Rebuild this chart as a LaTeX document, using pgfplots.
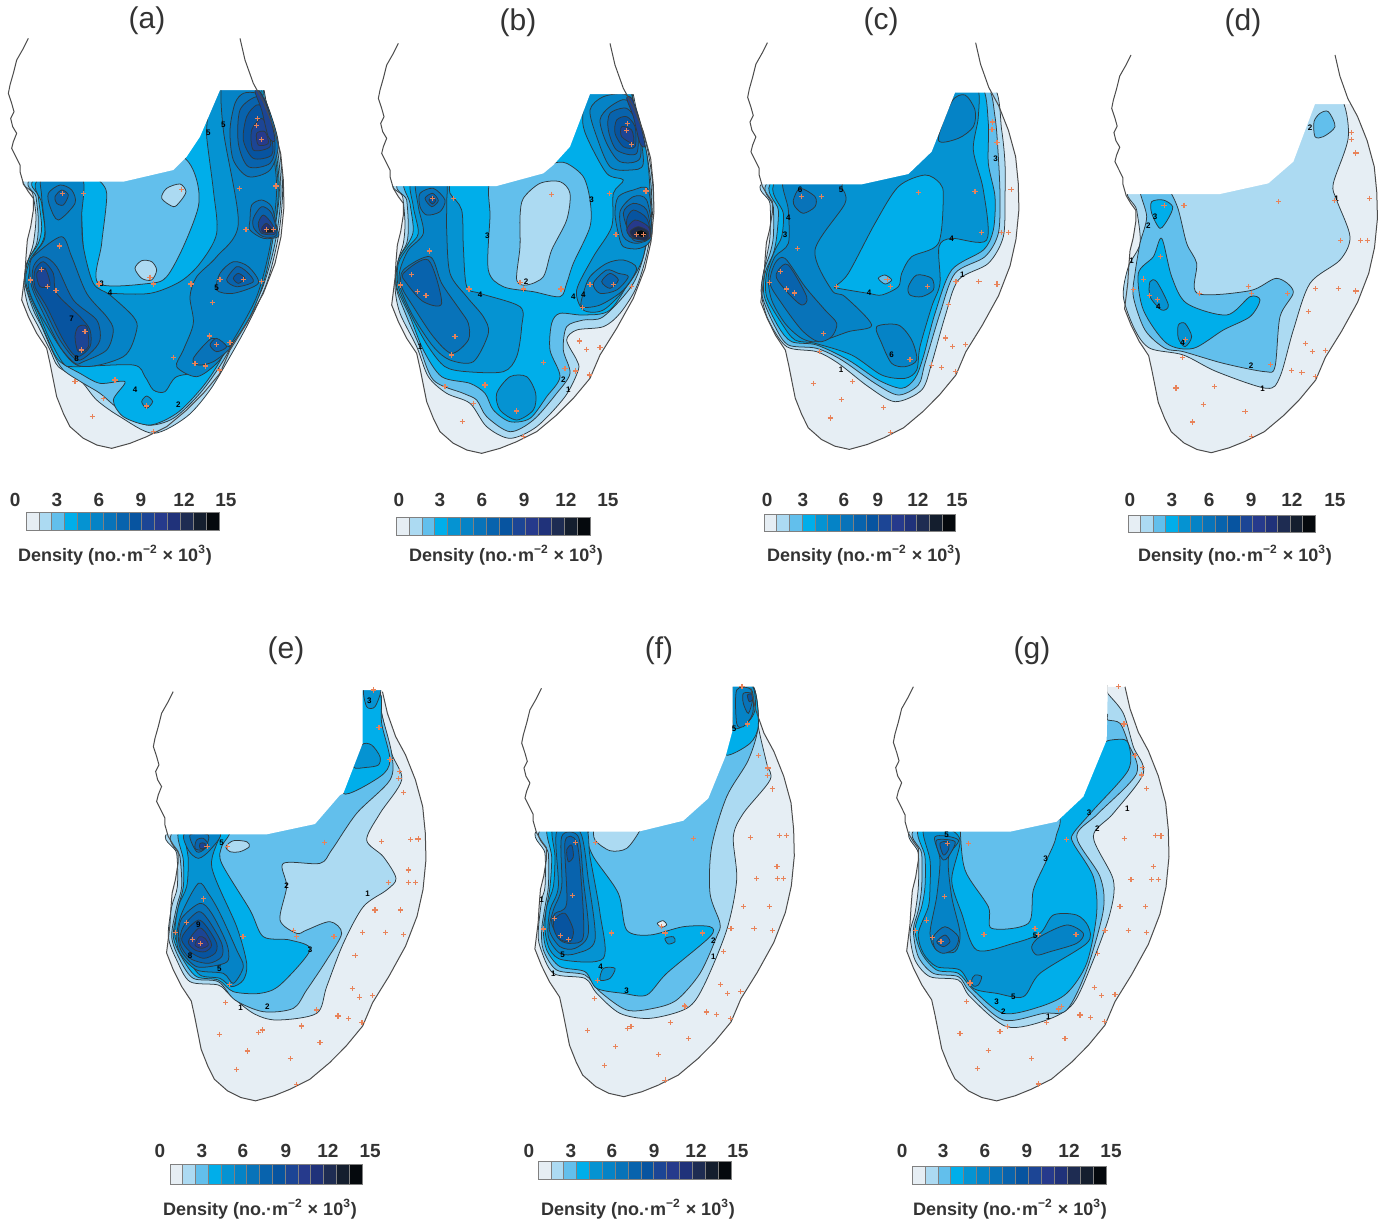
\documentclass[border=0pt]{standalone}
\usepackage{fontspec}
\setmainfont{Liberation Sans}
\usepackage{pgfplots}
\usepackage{pgfplotstable}
\pgfplotsset{compat=1.18}

% density classes, one per unit of the colour bar
\definecolor{c0}{HTML}{E6EEF4}
\definecolor{c1}{HTML}{ACDAF2}
\definecolor{c2}{HTML}{62BFEC}
\definecolor{c3}{HTML}{00AEEA}
\definecolor{c4}{HTML}{0593D2}
\definecolor{c5}{HTML}{0583C6}
\definecolor{c6}{HTML}{0873B9}
\definecolor{c7}{HTML}{0863AD}
\definecolor{c8}{HTML}{0754A0}
\definecolor{c9}{HTML}{1C4595}
\definecolor{c10}{HTML}{263A8C}
\definecolor{c11}{HTML}{20327A}
\definecolor{c12}{HTML}{1E2C52}
\definecolor{c13}{HTML}{141E2E}
\definecolor{c14}{HTML}{05090D}
\definecolor{cont}{HTML}{2F3A40}
\definecolor{site}{HTML}{E8835A}
\definecolor{txt}{HTML}{333333}

% coast, in the units of panel (a)
\pgfplotstableread{
x y
85 25
70 55
50 90
40 130
30 165
25 190
35 220
42 245
32 265
38 290
50 310
40 335
35 355
50 385
60 405
60 425
70 460
85 485
100 505
100 540
92 590
82 630
78 680
75 730
70 770
65 810
85 860
110 910
140 955
150 1000
160 1050
170 1100
190 1150
210 1190
250 1225
290 1245
335 1255
390 1240
440 1220
500 1190
560 1140
610 1090
660 1030
690 960
740 880
790 790
825 700
843 620
852 530
850 450
842 370
820 290
790 215
760 160
735 90
720 25
}\coasttable

% sampling sites
\pgfplotstableread{
x y
188 490
250 490
545 478
178 648
125 718
92 750
143 770
168 782
297 762
450 742
460 762
573 762
637 818
660 748
730 748
785 755
718 475
828 468
738 598
800 598
820 598
772 265
770 287
785 328
255 905
245 960
225 1055
345 1050
310 1105
440 1128
277 1160
460 1205
520 982
585 1000
617 1008
658 1020
628 918
650 943
690 938
}\sitetable

% further sites of panels (e) to (g)
\pgfplotstableread{
x y
812 478
805 570
705 690
782 690
530 990
485 1038
540 1087
367 1050
717 143
750 238
700 30
}\moresites

\pgfplotsset{
  panel/.style 2 args={
    at={(#1*0.5pt+75pt,-#2*0.5pt-107.5pt)}, anchor=center,
    scale only axis, width=150pt, height=215pt,
    xmin=0, xmax=900, ymin=0, ymax=1290, y dir=reverse,
    hide axis, clip=false},
}
\newcommand{\lv}[2]{\addplot[fill=c#1,draw=cont,line width=.38pt,smooth cycle] coordinates {#2};}
\newcommand{\mask}[1]{\addplot[fill=white,draw=none] coordinates {#1} --cycle;}
\newcommand{\base}[4]{\addplot[fill=c0,draw=none] table[x expr=\thisrow{x}*#1+#2,y expr=\thisrow{y}*#3+#4] {\coasttable} --cycle;}
\newcommand{\coast}[4]{\addplot[draw=black!70,line width=.5pt] table[x expr=\thisrow{x}*#1+#2,y expr=\thisrow{y}*#3+#4] {\coasttable};}
\newcommand{\sites}[4]{\addplot[only marks,mark=+,mark size=1.3pt,mark options={draw=site,line width=.55pt}] table[x expr=\thisrow{x}*#1+#2,y expr=\thisrow{y}*#3+#4] {\sitetable};}
\newcommand{\extra}[2]{\addplot[only marks,mark=+,mark size=1.3pt,mark options={draw=site,line width=.55pt}] table[x expr=\thisrow{x}+#1,y expr=\thisrow{y}+#2] {\moresites};}
\newcommand{\cl}[3]{\node[font=\fontsize{4}{4}\selectfont\bfseries,inner sep=0pt] at (axis cs:#1,#2) {#3};}

% colour bar: left, right, top, bottom in pixels, label gap, tick places
\newcommand{\cbar}[6]{%
\begin{axis}[
  at={({#1*0.5pt-(#2-#1)*0.5pt*2/15},{-#4*0.5pt})}, anchor=south west,
  scale only axis, width={(#2-#1)*0.5pt*20/15}, height={(#4-#3)*0.5pt},
  xmin=-2, xmax=18, ymin=0, ymax=1, clip=false,
  axis y line=none, axis x line*=top, x axis line style={draw=none},
  xtick={#6}, xticklabels={0,3,6,9,12,15}, major tick length=0pt,
  xticklabel style={inner sep=0pt,yshift=#5*0.5pt,text=txt,font=\fontsize{9.5}{10}\selectfont\bfseries},
  /pgf/number format/assume math mode=true,
]
\addplot[fill=c0,draw=gray,line width=.35pt] coordinates {(0,0)(1,0)(1,1)(0,1)} --cycle;
\addplot[fill=c1,draw=gray,line width=.35pt] coordinates {(1,0)(2,0)(2,1)(1,1)} --cycle;
\addplot[fill=c2,draw=gray,line width=.35pt] coordinates {(2,0)(3,0)(3,1)(2,1)} --cycle;
\addplot[fill=c3,draw=gray,line width=.35pt] coordinates {(3,0)(4,0)(4,1)(3,1)} --cycle;
\addplot[fill=c4,draw=gray,line width=.35pt] coordinates {(4,0)(5,0)(5,1)(4,1)} --cycle;
\addplot[fill=c5,draw=gray,line width=.35pt] coordinates {(5,0)(6,0)(6,1)(5,1)} --cycle;
\addplot[fill=c6,draw=gray,line width=.35pt] coordinates {(6,0)(7,0)(7,1)(6,1)} --cycle;
\addplot[fill=c7,draw=gray,line width=.35pt] coordinates {(7,0)(8,0)(8,1)(7,1)} --cycle;
\addplot[fill=c8,draw=gray,line width=.35pt] coordinates {(8,0)(9,0)(9,1)(8,1)} --cycle;
\addplot[fill=c9,draw=gray,line width=.35pt] coordinates {(9,0)(10,0)(10,1)(9,1)} --cycle;
\addplot[fill=c10,draw=gray,line width=.35pt] coordinates {(10,0)(11,0)(11,1)(10,1)} --cycle;
\addplot[fill=c11,draw=gray,line width=.35pt] coordinates {(11,0)(12,0)(12,1)(11,1)} --cycle;
\addplot[fill=c12,draw=gray,line width=.35pt] coordinates {(12,0)(13,0)(13,1)(12,1)} --cycle;
\addplot[fill=c13,draw=gray,line width=.35pt] coordinates {(13,0)(14,0)(14,1)(13,1)} --cycle;
\addplot[fill=c14,draw=gray,line width=.35pt] coordinates {(14,0)(15,0)(15,1)(14,1)} --cycle;
\end{axis}}
\newcommand{\dens}[2]{\node[text=txt,font=\fontsize{9}{10}\selectfont\bfseries,inner sep=0pt] at (#1*0.5pt,-#2*0.5pt) {Density (no.·m\textsuperscript{−2} × 10\textsuperscript{3})};}
\newcommand{\ttl}[3]{\node[text=txt,font=\fontsize{15}{16}\selectfont,inner sep=0pt] at (#1*0.5pt,-#2*0.5pt) {(#3)};}

\begin{document}
\begin{tikzpicture}
\path[use as bounding box] (0,0) rectangle (690.5pt,-611pt);

% ---------- (a)
\begin{axis}[panel={0}{30}]
\base{1}{0}{1}{0}
\lv{1}{(85,440)(98,490)(108,560)(100,640)(85,690)(72,760)(85,830)(115,890)(150,960)(175,1010)(240,1050)(290,1110)(360,1160)(460,1210)(560,1160)(630,1080)(690,980)(745,880)(800,760)(835,620)(848,480)(835,340)(800,220)(770,150)(660,150)(400,300)}
\lv{2}{(100,440)(108,500)(115,570)(110,640)(80,700)(75,760)(100,840)(125,890)(160,970)(190,1020)(250,1060)(300,1090)(360,1140)(440,1185)(520,1165)(600,1090)(665,1000)(720,900)(785,780)(825,640)(843,490)(830,340)(800,220)(775,150)(660,150)(400,300)}
\lv{3}{(112,440)(115,500)(125,590)(115,640)(85,690)(75,760)(110,850)(140,920)(175,990)(240,1030)(300,1060)(375,1055)(340,1110)(370,1160)(450,1185)(530,1150)(600,1080)(650,1010)(710,900)(775,780)(815,640)(838,490)(825,340)(795,220)(775,150)(640,150)(400,300)}
\lv{4}{(122,440)(125,520)(135,600)(125,640)(90,690)(78,760)(120,860)(150,930)(190,1000)(225,1010)(400,1005)(435,1040)(460,1080)(495,1085)(530,1040)(620,1020)(690,950)(750,860)(790,760)(815,650)(835,490)(820,340)(790,220)(770,150)(640,150)(400,300)}
\lv{3}{(245,440)(245,560)(255,700)(285,785)(330,790)(450,790)(540,755)(600,700)(650,610)(640,480)(620,320)(620,240)(560,300)(400,350)}
\lv{2}{(290,440)(320,490)(305,640)(295,760)(450,760)(500,740)(550,650)(595,530)(590,450)(555,385)(450,330)(300,400)}
\lv{1}{(485,505)(500,475)(540,462)(558,485)(540,515)(520,530)}
\lv{1}{(405,715)(425,692)(455,695)(470,720)(455,750)(425,745)}
\lv{4}{(425,1115)(440,1098)(458,1115)(440,1135)}
\lv{5}{(130,440)(245,440)(245,560)(250,650)(280,760)(330,795)(400,860)(410,900)(370,980)(230,1005)(130,870)(85,770)(100,680)(135,620)(125,500)}
\lv{5}{(670,150)(670,300)(715,580)(650,680)(590,740)(570,800)(580,880)(550,960)(530,1010)(590,1040)(650,1000)(700,930)(770,800)(810,650)(830,480)(815,340)(785,220)(760,150)}
\lv{6}{(90,700)(110,670)(185,620)(215,680)(260,790)(320,860)(340,900)(320,960)(250,995)(225,1000)(180,950)(130,850)(95,770)}
\lv{7}{(100,710)(130,680)(170,710)(220,810)(290,870)(300,930)(270,970)(230,990)(180,930)(135,840)(100,770)}
\lv{8}{(105,720)(130,695)(160,730)(170,790)(240,860)(270,900)(270,950)(230,980)(190,930)(140,830)(105,770)}
\lv{9}{(110,730)(135,715)(150,765)(120,770)}
\lv{9}{(235,890)(260,890)(265,950)(235,965)(225,920)}
\lv{6}{(145,490)(180,465)(215,480)(225,520)(175,570)(150,530)}
\lv{7}{(165,500)(185,480)(205,495)(190,525)(170,520)}
\lv{6}{(705,220)(690,300)(700,390)(745,440)(810,420)(835,340)(800,220)(770,190)(730,190)}
\lv{7}{(720,240)(715,340)(745,410)(810,400)(825,340)(800,230)(770,200)}
\lv{8}{(740,260)(730,330)(760,385)(815,375)(815,320)(795,240)(770,225)}
\lv{9}{(755,300)(760,360)(810,350)(805,300)(785,265)}
\lv{10}{(770,310)(775,345)(805,340)(795,305)}
\lv{9}{(765,185)(785,240)(805,320)(825,330)(805,240)(780,185)}
\lv{6}{(750,570)(755,525)(785,510)(815,530)(830,590)(835,620)(790,625)(750,600)}
\lv{7}{(760,565)(785,530)(815,550)(830,615)(790,620)(762,595)}
\lv{9}{(775,580)(790,555)(815,580)(825,612)(785,610)}
\lv{11}{(785,595)(800,580)(820,605)(790,608)}
\lv{13}{(795,598)(812,595)(820,606)(800,608)}
\lv{6}{(650,780)(660,730)(700,695)(745,710)(775,760)(700,790)}
\lv{7}{(680,750)(710,710)(740,725)(760,755)(710,770)}
\lv{8}{(700,745)(715,730)(735,745)(715,760)}
\lv{6}{(580,985)(635,925)(670,945)(690,955)(640,995)(595,1005)}
\lv{7}{(630,945)(650,925)(680,950)(650,965)}
\mask{(0,455)(370,455)(520,420)(560,380)(600,320)(660,180)(810,180)(810,-20)(0,-20)}
\coast{1}{0}{1}{0}
\sites{1}{0}{1}{0}
\cl{305}{762}{3}\cl{330}{788}{4}\cl{625}{307}{5}\cl{670}{285}{5}\cl{405}{1080}{4}\cl{535}{1125}{2}\cl{650}{772}{5}\cl{215}{865}{7}\cl{230}{985}{8}
\end{axis}

% ---------- (b)
\begin{axis}[panel={370}{30}]
\base{1}{0}{1}{15}
\lv{1}{(85,450)(98,500)(105,580)(100,640)(85,690)(75,770)(90,850)(140,950)(175,1040)(230,1090)(300,1120)(350,1190)(420,1225)(500,1190)(585,1100)(625,1020)(620,990)(590,930)(620,900)(700,890)(750,850)(800,770)(835,650)(850,500)(835,370)(800,240)(770,160)(640,160)(400,300)}
\lv{2}{(95,450)(110,510)(115,590)(110,640)(85,690)(78,770)(110,860)(145,940)(190,1050)(280,1090)(320,1110)(350,1160)(420,1205)(490,1170)(560,1090)(600,1030)(580,960)(590,890)(640,870)(700,860)(790,760)(830,640)(845,500)(830,370)(795,240)(770,160)(640,160)(400,300)}
\lv{3}{(110,450)(120,520)(130,600)(115,640)(85,690)(80,770)(120,860)(160,960)(215,1040)(300,1060)(345,1090)(370,1140)(420,1175)(480,1165)(530,1100)(570,1040)(540,960)(545,880)(570,850)(640,855)(720,840)(790,730)(825,630)(840,500)(825,370)(790,240)(770,160)(600,160)(300,430)}
\lv{2}{(365,450)(360,560)(355,720)(400,770)(490,785)(570,800)(590,760)(610,700)(660,590)(660,510)(640,440)(590,400)(550,400)(500,430)}
\lv{1}{(460,505)(510,460)(570,455)(600,490)(590,570)(545,660)(520,740)(470,765)(440,750)(450,650)(450,560)}
\lv{4}{(125,450)(130,530)(145,610)(115,650)(85,700)(85,770)(125,860)(175,950)(225,1010)(290,1025)(400,1025)(440,980)(455,890)(450,830)(330,790)(290,770)(280,650)(275,540)(240,490)(230,450)}
\lv{4}{(660,170)(638,260)(650,320)(710,430)(760,450)(730,490)(725,590)(670,680)(620,780)(640,840)(700,840)(770,770)(820,680)(840,520)(830,370)(795,240)(770,170)}
\lv{4}{(380,1090)(420,1040)(470,1040)(497,1090)(490,1140)(440,1170)(390,1140)}
\lv{5}{(140,450)(145,530)(160,610)(115,660)(90,720)(90,770)(130,860)(190,950)(240,990)(310,995)(355,910)(340,860)(290,800)(240,730)(230,600)(230,520)(225,450)}
\lv{6}{(100,720)(180,680)(215,760)(270,840)(295,880)(295,930)(245,970)(190,920)(130,830)(95,770)}
\lv{7}{(100,730)(175,690)(215,820)(160,815)(110,760)}
\lv{6}{(150,490)(190,475)(225,510)(210,545)(170,555)(150,530)}
\lv{7}{(165,505)(188,490)(205,512)(185,530)}
\lv{8}{(177,510)(188,500)(197,512)(187,522)}
\lv{5}{(700,200)(660,240)(680,320)(720,410)(780,420)(820,400)(800,260)(770,195)}
\lv{6}{(720,230)(690,270)(710,340)(750,395)(810,385)(805,280)(770,210)}
\lv{7}{(720,250)(715,300)(740,360)(800,370)(800,280)(770,235)}
\lv{8}{(740,270)(735,310)(760,350)(795,350)(795,290)(770,260)}
\lv{9}{(755,290)(755,320)(790,340)(785,300)}
\lv{9}{(770,205)(790,260)(810,340)(825,345)(805,260)(785,205)}
\lv{5}{(735,550)(745,500)(790,480)(835,480)(845,620)(810,655)(760,650)(745,610)}
\lv{6}{(750,545)(790,500)(830,510)(845,615)(800,640)(760,620)}
\lv{7}{(760,550)(790,520)(830,540)(840,620)(790,630)}
\lv{8}{(770,570)(790,540)(830,565)(838,620)(780,620)}
\lv{10}{(770,600)(795,570)(835,590)(838,625)(790,625)}
\lv{12}{(780,605)(805,590)(835,605)(830,630)(795,625)}
\lv{14}{(795,608)(815,600)(832,612)(815,622)}
\lv{5}{(640,790)(660,740)(710,700)(760,690)(800,715)(760,780)(690,825)(635,830)}
\lv{6}{(670,760)(710,720)(745,730)(775,740)(740,780)(690,790)}
\lv{7}{(695,755)(720,730)(745,750)(720,775)}
\mask{(0,468)(380,468)(520,430)(550,405)(600,350)(660,192)(810,192)(810,-20)(0,-20)}
\coast{1}{0}{1}{15}
\sites{1}{0}{1}{15}
\cl{352}{618}{3}\cl{330}{795}{4}\cl{665}{510}{3}\cl{468}{755}{2}\cl{610}{800}{4}\cl{640}{795}{4}\cl{150}{950}{1}\cl{580}{1050}{2}\cl{595}{1078}{1}
\end{axis}

% ---------- (c)
\begin{axis}[panel={735}{30}]
\base{.984}{13.4}{.992}{13.2}
\lv{1}{(90,450)(105,520)(105,620)(95,680)(80,760)(80,800)(100,870)(155,950)(245,965)(310,1000)(400,1070)(480,1115)(560,1080)(590,1000)(630,860)(670,750)(760,700)(805,620)(810,500)(810,400)(800,300)(775,170)(640,170)(400,300)}
\lv{2}{(105,450)(115,530)(115,620)(105,670)(85,730)(82,800)(120,890)(160,945)(245,955)(320,990)(420,1060)(490,1095)(550,1065)(570,1000)(615,850)(660,730)(750,680)(790,610)(795,500)(790,380)(780,260)(755,170)(640,170)(400,300)}
\lv{3}{(115,450)(130,540)(125,620)(115,670)(90,730)(88,800)(130,890)(170,935)(245,945)(340,990)(430,1050)(500,1075)(540,1045)(565,980)(600,850)(650,720)(745,660)(775,600)(780,500)(760,400)(760,280)(740,170)(640,170)(400,300)}
\lv{4}{(125,450)(145,550)(140,620)(120,660)(95,730)(95,800)(140,880)(180,930)(240,940)(350,975)(440,1035)(510,1045)(545,1020)(555,950)(590,830)(615,760)(612,650)(650,625)(755,630)(745,480)(715,360)(730,260)(725,170)(640,170)(400,300)}
\lv{3}{(300,770)(340,730)(420,580)(490,470)(570,435)(615,460)(625,500)(610,640)(530,680)(500,730)(490,770)(440,795)(400,790)(310,775)}
\lv{2}{(430,745)(450,735)(470,750)(450,762)}
\lv{5}{(150,440)(160,540)(160,640)(120,680)(100,740)(110,810)(150,880)(200,925)(250,935)(340,905)(410,885)(330,800)(290,780)(240,660)(330,520)(320,470)(320,440)}
\lv{5}{(425,890)(490,885)(530,930)(545,990)(510,1010)(470,1000)(440,940)}
\lv{5}{(520,770)(545,735)(590,745)(595,780)(560,800)(525,795)}
\lv{6}{(175,510)(195,475)(240,500)(240,530)(205,550)(180,530)}
\lv{6}{(120,700)(150,685)(210,770)(270,840)(305,880)(290,920)(250,935)(200,900)(140,820)(105,760)}
\lv{7}{(130,720)(160,705)(215,800)(200,825)(160,790)(125,745)}
\lv{5}{(610,330)(650,215)(690,195)(720,240)(715,290)(670,325)}
\mask{(0,463)(380,463)(520,432)(590,365)(660,188)(820,188)(820,-20)(0,-20)}
\coast{.984}{13.4}{.992}{13.2}
\sites{.984}{13.4}{.992}{13.2}
\cl{195}{478}{6}\cl{318}{478}{5}\cl{160}{562}{4}\cl{150}{615}{3}\cl{650}{627}{4}\cl{782}{385}{3}\cl{402}{788}{4}\cl{470}{975}{6}\cl{318}{1020}{1}\cl{682}{733}{1}
\end{axis}

% ---------- (d)
\begin{axis}[panel={1090}{30}]
\base{.964}{41}{.97}{50.7}
\lv{1}{(125,470)(140,540)(150,640)(115,710)(100,800)(135,900)(180,955)(280,975)(380,1025)(530,1075)(570,1040)(610,900)(660,760)(750,690)(780,620)(740,510)(730,460)(775,320)(750,200)(650,200)(400,350)}
\lv{2}{(150,470)(225,470)(262,530)(290,640)(320,700)(322,790)(480,782)(560,745)(610,785)(570,860)(555,1010)(525,1025)(400,1000)(280,965)(225,955)(165,900)(130,800)(135,730)(150,640)(170,560)}
\lv{3}{(215,625)(245,740)(290,820)(410,855)(480,800)(510,810)(480,860)(400,900)(310,955)(230,940)(160,840)(145,730)(190,680)}
\lv{4}{(180,755)(200,755)(235,825)(215,840)(180,800)}
\lv{4}{(265,885)(285,880)(305,920)(285,950)(265,925)}
\lv{3}{(185,515)(220,510)(248,530)(235,565)(210,595)(185,550)}
\lv{2}{(672,275)(690,250)(715,245)(735,290)(700,320)(675,320)}
\mask{(0,492)(390,492)(535,460)(610,395)(675,222)(830,222)(830,-20)(0,-20)}
\coast{.964}{41}{.97}{50.7}
\sites{.964}{41}{.97}{50.7}
\cl{660}{293}{2}\cl{195}{560}{3}\cl{175}{587}{2}\cl{205}{830}{4}\cl{278}{938}{4}\cl{740}{507}{1}\cl{483}{1007}{2}\cl{518}{1075}{1}\cl{125}{693}{1}
\end{axis}

% ---------- (e)
\begin{axis}[panel={140}{680}]
\base{.989}{15.3}{.998}{10}
\lv{1}{(90,450)(110,520)(112,620)(95,680)(85,770)(110,840)(150,905)(235,915)(270,945)(340,1000)(410,1020)(530,1000)(560,920)(610,790)(670,680)(740,630)(768,595)(730,530)(680,480)(720,400)(785,300)(755,220)(725,100)(720,40)(660,20)(400,300)}
\lv{2}{(105,450)(120,530)(125,620)(110,680)(95,770)(120,840)(160,895)(235,905)(285,960)(370,995)(460,985)(500,930)(560,840)(605,760)(570,725)(500,750)(470,760)(420,720)(440,620)(430,550)(540,550)(575,510)(650,400)(750,300)(755,220)(725,100)(720,40)(660,20)(400,300)}
\lv{3}{(120,450)(130,540)(130,620)(115,680)(100,770)(130,840)(170,890)(235,900)(280,935)(360,940)(420,915)(510,810)(450,780)(370,770)(330,690)(245,550)(245,500)(265,450)}
\lv{3}{(610,340)(720,290)(750,240)(725,130)(720,40)(660,20)(660,190)}
\lv{4}{(140,450)(145,540)(140,620)(115,680)(105,770)(140,830)(180,885)(240,895)(275,920)(310,900)(320,850)(290,740)(215,560)(240,450)}
\lv{4}{(640,260)(665,195)(695,195)(720,230)(715,255)(680,262)}
\lv{4}{(672,25)(722,25)(705,80)(680,80)}
\lv{5}{(175,610)(205,640)(240,700)(290,810)(310,860)(280,910)(250,880)(170,870)(120,820)(110,770)(125,700)}
\lv{6}{(180,670)(215,700)(260,790)(265,840)(235,855)(170,860)(125,815)(115,770)(125,715)}
\lv{7}{(175,695)(205,720)(245,790)(245,830)(205,850)(150,835)(120,790)(130,740)}
\lv{8}{(175,720)(200,740)(230,790)(225,820)(190,835)(150,815)(125,780)(140,750)}
\lv{9}{(175,745)(195,755)(215,795)(195,815)(165,810)(145,785)}
\lv{10}{(178,770)(195,775)(205,795)(185,805)(165,795)}
\lv{5}{(135,460)(240,460)(210,510)(175,535)(145,510)}
\lv{6}{(150,465)(205,465)(195,505)(170,515)}
\lv{7}{(170,480)(190,475)(205,495)(185,510)(165,505)}
\lv{9}{(180,490)(195,490)(195,505)(180,505)}
\lv{1}{(258,500)(280,482)(320,485)(328,500)(300,515)(270,515)}
\mask{(0,463)(380,463)(525,432)(600,345)(610,340)(668,190)(668,30)(800,30)(800,-20)(0,-20)}
\coast{.989}{15.3}{.998}{10}
\sites{.989}{15.3}{.998}{10}
\extra{0}{0}
\cl{440}{618}{2}\cl{510}{810}{3}\cl{382}{980}{2}\cl{302}{983}{1}\cl{683}{642}{1}\cl{175}{735}{9}\cl{150}{828}{8}\cl{238}{865}{5}\cl{245}{488}{5}\cl{688}{63}{3}
\end{axis}

% ---------- (f)
\begin{axis}[panel={510}{680}]
\base{.989}{10.3}{.996}{0}
\lv{1}{(90,440)(105,520)(105,620)(95,660)(85,750)(90,800)(130,880)(225,895)(260,940)(330,1000)(420,1015)(530,985)(580,920)(650,750)(680,600)(670,470)(700,400)(780,300)(770,250)(745,140)(730,20)(660,5)(400,300)}
\lv{2}{(100,440)(115,520)(115,620)(105,680)(95,750)(100,810)(140,870)(225,885)(270,935)(350,990)(430,985)(500,960)(570,880)(620,770)(630,730)(600,640)(605,500)(650,350)(715,240)(745,135)(730,20)(660,5)(400,300)}
\lv{1}{(250,440)(255,480)(300,512)(350,505)(390,450)(390,420)(250,420)}
\lv{3}{(115,440)(125,530)(120,620)(110,680)(100,750)(110,810)(150,860)(225,875)(260,925)(340,940)(410,945)(470,880)(600,770)(600,740)(520,740)(420,765)(350,750)(325,640)(250,530)(230,470)(235,440)}
\lv{3}{(648,225)(720,190)(745,135)(730,20)(660,5)(650,150)}
\lv{4}{(130,440)(135,530)(130,620)(110,680)(105,750)(120,810)(160,840)(280,835)(270,700)(240,530)(225,440)}
\lv{4}{(670,140)(710,130)(735,90)(728,20)(670,5)}
\lv{5}{(140,455)(210,455)(235,600)(255,780)(200,820)(150,820)(115,770)(120,690)(145,620)}
\lv{6}{(155,470)(205,470)(220,600)(235,760)(195,805)(150,800)(118,750)(130,690)(155,620)}
\lv{7}{(165,485)(200,485)(215,620)(220,770)(185,790)(150,780)(125,730)(135,700)(170,670)}
\lv{8}{(170,510)(185,495)(190,530)(175,545)}
\lv{8}{(135,715)(165,700)(190,750)(180,785)(145,775)(130,740)}
\lv{5}{(680,30)(725,30)(728,100)(700,140)(680,130)}
\lv{6}{(700,40)(725,40)(728,60)(715,100)(700,70)}
\lv{8}{(712,45)(725,42)(728,58)(718,65)}
\lv{4}{(270,900)(280,865)(315,865)(300,895)}
\lv{4}{(465,775)(490,770)(495,785)(475,792)}
\lv{0}{(442,730)(460,722)(470,735)(455,742)}
\mask{(0,455)(385,455)(520,422)(595,355)(648,225)(668,150)(668,20)(810,20)(810,-20)(0,-20)}
\coast{.989}{10.3}{.996}{0}
\sites{.989}{10.3}{.996}{0}
\extra{-4}{-11}
\cl{95}{658}{1}\cl{130}{880}{1}\cl{350}{933}{3}\cl{610}{783}{2}\cl{610}{830}{1}\cl{272}{860}{4}\cl{158}{825}{5}\cl{672}{147}{5}
\end{axis}

% ---------- (g)
\begin{axis}[panel={880}{680}]
\base{1}{15}{1.01}{-5}
\lv{1}{(100,440)(115,520)(115,620)(105,700)(90,760)(105,840)(150,890)(235,900)(270,950)(380,1040)(500,1020)(580,970)(640,840)(690,700)(700,600)(640,470)(700,400)(790,280)(760,200)(730,100)(683,40)(660,5)(400,300)}
\lv{2}{(110,440)(125,520)(125,620)(115,690)(100,750)(115,830)(160,880)(235,890)(270,935)(370,1020)(490,1000)(560,990)(620,870)(670,690)(660,590)(590,470)(655,400)(770,280)(745,190)(720,130)(683,120)(660,110)(400,300)}
\lv{3}{(120,440)(135,530)(135,620)(125,680)(105,750)(125,820)(170,870)(235,880)(280,930)(370,1000)(480,980)(560,940)(620,850)(650,700)(640,590)(580,490)(580,460)(640,390)(745,270)(745,190)(715,178)(660,200)(600,350)(500,400)(300,400)}
\lv{2}{(240,440)(255,570)(325,680)(335,745)(445,730)(460,630)(500,540)(528,470)(520,400)(240,400)}
\lv{4}{(130,450)(150,540)(150,620)(145,680)(115,760)(130,820)(170,860)(240,870)(280,925)(350,940)(430,950)(480,880)(620,790)(625,740)(590,705)(520,705)(480,760)(400,790)(290,810)(245,700)(215,600)(240,480)(190,440)}
\lv{5}{(455,800)(480,770)(560,735)(610,760)(590,790)(510,815)(470,825)}
\lv{5}{(165,470)(235,480)(205,535)(215,650)(240,760)(225,815)(170,810)(150,760)(170,650)(180,540)}
\lv{6}{(170,480)(225,485)(205,530)(190,540)(175,515)}
\lv{7}{(180,490)(205,485)(205,510)(190,525)}
\lv{6}{(160,770)(195,740)(235,770)(225,805)(190,820)(165,805)}
\lv{7}{(170,785)(195,765)(210,785)(190,800)}
\lv{5}{(275,900)(285,885)(305,890)(295,915)(280,918)}
\mask{(0,455)(390,455)(530,425)(610,350)(680,180)(683,40)(683,15)(810,15)(810,-20)(0,-20)}
\coast{1}{15}{1.01}{-5}
\sites{1}{15}{1.01}{-5}
\extra{15}{-11}
\cl{200}{465}{5}\cl{497}{537}{3}\cl{627}{397}{3}\cl{652}{447}{2}\cl{742}{385}{1}\cl{465}{768}{5}\cl{400}{950}{5}\cl{350}{965}{3}\cl{370}{995}{2}\cl{505}{1010}{1}
\end{axis}

% ---------- colour bars
\cbar{26}{219}{512}{530}{5}{-0.85,2.41,5.67,8.94,12.28,15.54}
\cbar{396}{590}{517}{535}{10}{0.23,3.40,6.65,9.90,13.14,16.39}
\cbar{764}{955}{514}{531}{7}{0.24,3.06,6.28,8.95,12.09,15.16}
\cbar{1128}{1315}{515}{532}{8}{0.16,3.53,6.50,9.87,13.15,16.60}
\cbar{170}{362}{1164}{1184}{6}{-0.78,2.50,5.70,9.06,12.34,15.63}
\cbar{538}{731}{1161}{1179}{3}{-0.70,2.56,5.75,9.02,12.28,15.54}
\cbar{912}{1106}{1166}{1184}{8}{-0.77,2.40,5.64,8.89,12.14,15.39}

\dens{115}{555}\dens{506}{555}\dens{864}{555}\dens{1235}{555}
\dens{260}{1209}\dens{638}{1209}\dens{1010}{1209}
\ttl{147}{21}{a}\ttl{518}{23}{b}\ttl{881}{22}{c}\ttl{1243}{23}{d}
\ttl{286}{651}{e}\ttl{659}{651}{f}\ttl{1032}{651}{g}
\end{tikzpicture}
\end{document}
